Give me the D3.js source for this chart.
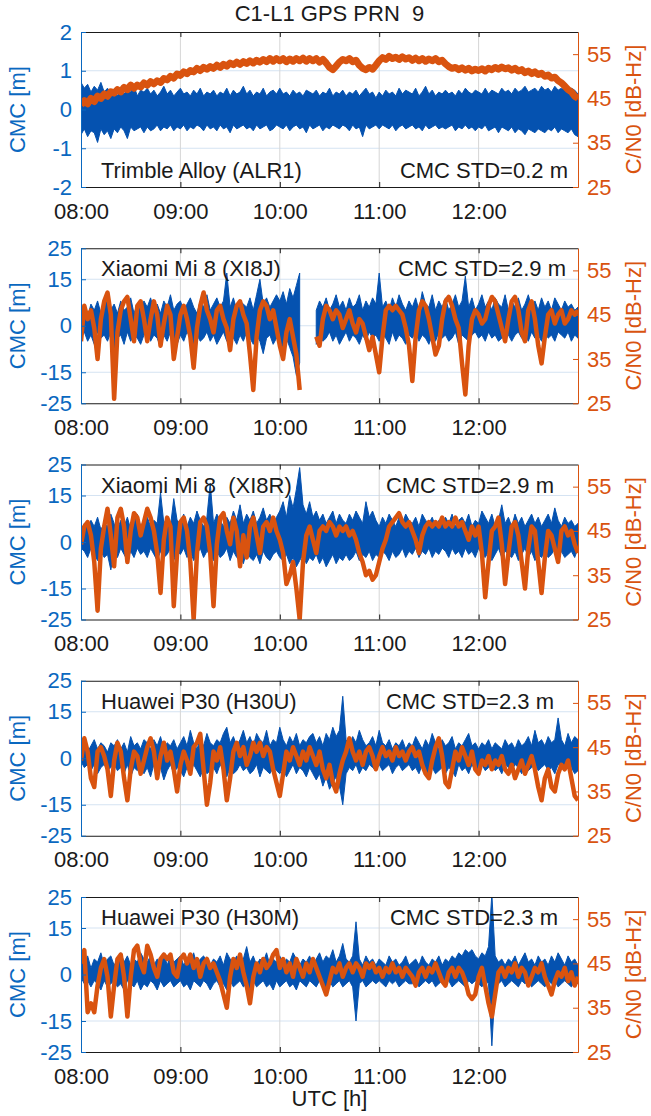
<!DOCTYPE html>
<html>
<head>
<meta charset="utf-8">
<script src="https://cdn.jsdelivr.net/npm/d3@7"></script>
<style>
    body { margin: 0; background: #fff; }
    svg text { font-family: "Liberation Sans", Arial, sans-serif; }
</style>
</head>
<body>
<div id="chart-area"></div>
<script>
/*
*    CMC and C/N0 of GPS PRN 9, five receivers
*/

// Tick values and labels
var hourTicks = [8, 9, 10, 11, 12];
var hourLabels = ["08:00", "09:00", "10:00", "11:00", "12:00"];
var cmcTicksGeodetic = [-2, -1, 0, 1, 2];
var cmcTicksPhone = [-25, -15, 0, 15, 25];
var cn0Ticks = [25, 35, 45, 55];

var receiverNames = ["Trimble Alloy (ALR1)", "Xiaomi Mi 8 (XI8J)", "Xiaomi Mi 8  (XI8R)", "Huawei P30 (H30U)", "Huawei P30 (H30M)"];
var stdLabels = ["CMC STD=0.2 m", "CMC STD=2.9 m", "CMC STD=2.9 m", "CMC STD=2.3 m", "CMC STD=2.3 m"];

// one sample every 2 minutes, 08:00 .. 13:00 (151 samples)
var sampleHours = d3.range(151).map(function(i){ return 8 + i / 30; });

// ---- ALR1 ----
var alr1CmcHi = [
 0.7,0.55,0.65,0.45,0.6,0.5,0.7,0.45,0.55,0.4,
 0.5,0.35,0.55,0.4,0.5,0.45,0.6,0.35,0.5,0.45,
 0.55,0.4,0.5,0.35,0.45,0.6,0.4,0.5,0.35,0.45,
 0.55,0.4,0.45,0.35,0.5,0.4,0.55,0.35,0.45,0.4,
 0.5,0.35,0.45,0.4,0.55,0.35,0.5,0.4,0.45,0.6,
 0.4,0.5,0.35,0.45,0.4,0.55,0.35,0.45,0.5,0.4,
 0.55,0.4,0.45,0.35,0.5,0.4,0.45,0.35,0.5,0.45,
 0.4,0.5,0.35,0.45,0.4,0.55,0.35,0.45,0.4,0.5,
 0.35,0.45,0.4,0.5,0.35,0.45,0.55,0.4,0.45,0.3,
 0.45,0.35,0.5,0.4,0.45,0.35,0.55,0.4,0.5,0.45,
 0.4,0.55,0.35,0.45,0.6,0.4,0.5,0.35,0.45,0.4,
 0.5,0.4,0.45,0.35,0.5,0.4,0.55,0.45,0.4,0.5,
 0.45,0.4,0.55,0.4,0.5,0.45,0.4,0.55,0.45,0.5,
 0.4,0.55,0.45,0.5,0.6,0.45,0.5,0.55,0.45,0.6,
 0.5,0.55,0.45,0.6,0.5,0.55,0.5,0.45,0.55,0.5,0.4];
var alr1CmcLo = [
 -0.65,-0.5,-0.7,-0.55,-0.6,-0.85,-0.5,-0.65,-0.55,-0.75,
 -0.5,-0.6,-0.45,-0.55,-0.75,-0.45,-0.55,-0.5,-0.45,-0.6,
 -0.45,-0.55,-0.5,-0.4,-0.55,-0.45,-0.5,-0.4,-0.55,-0.45,
 -0.5,-0.4,-0.55,-0.45,-0.5,-0.4,-0.45,-0.55,-0.4,-0.5,
 -0.45,-0.55,-0.4,-0.5,-0.45,-0.6,-0.4,-0.5,-0.45,-0.4,
 -0.5,-0.45,-0.55,-0.4,-0.5,-0.45,-0.4,-0.55,-0.5,-0.4,
 -0.45,-0.5,-0.4,-0.55,-0.45,-0.4,-0.5,-0.45,-0.6,-0.4,
 -0.5,-0.45,-0.4,-0.55,-0.45,-0.5,-0.4,-0.45,-0.5,-0.4,
 -0.45,-0.55,-0.4,-0.5,-0.45,-0.7,-0.4,-0.5,-0.45,-0.4,
 -0.5,-0.4,-0.45,-0.5,-0.4,-0.55,-0.45,-0.4,-0.5,-0.45,
 -0.4,-0.5,-0.45,-0.55,-0.4,-0.5,-0.45,-0.4,-0.5,-0.45,
 -0.5,-0.45,-0.4,-0.55,-0.45,-0.5,-0.4,-0.5,-0.45,-0.55,
 -0.45,-0.5,-0.4,-0.55,-0.5,-0.45,-0.6,-0.45,-0.5,-0.55,
 -0.45,-0.6,-0.5,-0.55,-0.65,-0.5,-0.55,-0.6,-0.5,-0.55,
 -0.6,-0.5,-0.55,-0.45,-0.6,-0.5,-0.55,-0.6,-0.5,-0.65,-0.7];
var alr1Cn0 = [
 43.5,44.5,43.8,45,44.3,45.5,45,46,45.5,46.5,
 46.2,47,46.5,47.5,47,48,47.3,48,47.6,48.5,
 48,48.8,48.3,49,48.6,49.5,49.2,50,49.6,50.5,
 50.2,51,50.6,51.3,51,51.8,51.3,52,51.6,52.2,
 51.8,52.5,52,52.7,52.3,53,52.6,53.2,52.7,53.3,
 52.9,53.5,53,53.6,53.2,53.8,53.3,54,53.4,54,
 53.5,54,53.3,53.9,53.4,54,53.5,54.1,53.4,54,
 53.5,54,53.2,53.8,53,52,51.5,52.3,53.2,53.8,
 53.5,54,53.3,53.6,52.5,51.8,51.5,52,51.6,52.5,
 53.5,54.2,53.8,54.5,54,54.3,53.8,54.4,53.9,54.2,
 53.6,54.1,53.5,54,53.4,53.9,53.5,54,53.3,53.6,
 52.8,52.2,51.8,52,51.5,51.9,51.4,51.8,51.2,51.6,
 51.3,51.7,51.2,51.8,51.5,52,51.6,52.1,51.7,51.9,
 51.4,51.8,51.2,51.5,50.8,51.2,50.6,51,50.4,50.7,
 50,50.3,49.6,49.8,49,48.5,47.8,47,46.5,45.5,45];

// ---- XI8J ----
var xi8jCmcHi = [
 4,6,3,7,5,8,4,6,9,5,
 7,4,8,5,6,9,4,7,5,8,
 6,9,5,7,4,8,6,10,5,7,
 8,5,7,9,6,4,8,6,10,5,
 7,9,6,8,17,6,9,5,8,7,
 6,9,5,10,15,7,9,6,8,10,
 8,11,7,12,9,13,17,null,null,null,
 null,5,8,6,9,5,7,10,6,8,
 5,9,6,7,10,5,8,6,9,7,
 17,6,8,5,9,6,10,7,5,8,
 6,9,5,11,7,6,10,5,8,6,
 9,5,7,10,6,8,16,6,9,5,
 7,10,6,8,5,9,7,6,10,5,
 8,6,9,5,7,10,6,8,5,9,
 6,8,5,9,7,5,8,6,7,5,6];
var xi8jCmcLo = [
 -4,-2,-5,-3,-6,-2,-4,-3,-5,-2,
 -24,-4,-3,-6,-2,-5,-3,-4,-6,-3,
 -2,-5,-3,-4,-7,-3,-5,-2,-4,-6,
 -3,-5,-2,-4,-6,-3,-5,-4,-2,-5,
 -3,-6,-4,-2,-5,-3,-4,-6,-3,-5,
 -2,-4,-6,-3,-5,-9,-4,-3,-6,-4,
 -5,-8,-4,-7,-10,-16,-12,null,null,null,
 null,-6,-3,-5,-4,-2,-5,-3,-6,-4,
 -2,-5,-3,-4,-6,-3,-5,-2,-4,-3,
 -5,-3,-4,-6,-2,-5,-3,-4,-6,-3,
 -4,-2,-5,-3,-4,-6,-3,-5,-2,-4,
 -3,-5,-4,-2,-6,-3,-4,-5,-3,-2,
 -4,-3,-5,-2,-4,-3,-5,-4,-2,-3,
 -5,-3,-2,-4,-3,-5,-2,-4,-3,-5,
 -2,-4,-3,-5,-2,-3,-4,-2,-5,-3,-4];
var xi8jCn0 = [
 39,47,44,46,42,35,44,48,50,45,
 26,41,46,48,49,44,39,47,48,44,
 39,44,48,45,38,43,47,45,35,40,
 45,47,44,40,33,42,47,50,46,44,
 41,46,47,44,42,37,44,47,48,45,
 43,36,28,40,46,48,47,44,46,42,
 38,35,41,44,40,36,28,null,null,null,
 null,40,38,44,47,46,44,46,45,42,
 44,46,43,41,44,43,40,37,40,36,
 32,40,46,47,46,47,46,45,42,38,
 30,40,46,48,47,44,40,36,38,44,
 48,49,47,44,42,34,27,38,44,46,
 45,43,44,47,49,48,45,42,39,44,
 48,49,46,41,39,46,48,44,38,34,
 40,45,46,43,45,46,43,44,46,45,46];

// ---- XI8R ----
var xi8rCmcHi = [
 3,6,4,7,5,8,4,6,5,9,
 6,4,7,5,8,4,6,9,5,7,
 8,5,7,6,16,6,8,5,14,7,
 6,9,5,8,6,10,7,5,8,19,
 6,9,7,5,8,6,10,7,12,6,
 9,7,10,6,8,11,7,9,6,8,
 10,13,8,15,11,17,24,12,9,13,
 8,10,7,9,6,8,10,6,9,7,
 6,9,7,10,8,6,13,8,10,7,
 5,8,6,9,7,5,8,6,9,7,
 6,8,5,9,7,6,8,5,7,6,
 8,6,9,5,7,8,6,9,5,7,
 6,10,8,6,9,5,7,12,6,8,
 5,9,6,8,5,7,9,6,8,5,
 7,9,6,11,7,5,8,6,7,5,6];
var xi8rCmcLo = [
 -2,-3,-5,-2,-4,-6,-3,-5,-4,-9,
 -3,-5,-2,-4,-6,-3,-5,-2,-4,-3,
 -5,-2,-4,-6,-3,-5,-4,-2,-6,-3,
 -4,-2,-5,-3,-6,-4,-2,-5,-3,-4,
 -6,-3,-5,-4,-2,-6,-3,-5,-4,-7,
 -3,-5,-6,-4,-7,-3,-5,-6,-4,-3,
 -5,-6,-4,-7,-5,-8,-6,-4,-7,-5,
 -6,-4,-7,-5,-8,-6,-4,-7,-5,-6,
 -4,-6,-5,-3,-6,-4,-5,-3,-6,-4,
 -5,-3,-4,-6,-3,-5,-4,-2,-5,-3,
 -4,-2,-5,-3,-4,-2,-5,-3,-4,-2,
 -3,-5,-2,-4,-3,-5,-2,-4,-3,-5,
 -2,-4,-5,-3,-6,-4,-2,-5,-3,-4,
 -5,-3,-6,-4,-2,-5,-3,-6,-4,-5,
 -3,-5,-4,-2,-6,-3,-5,-4,-3,-5,-2];
var xi8rCn0 = [
 42,46,47,44,38,27,41,46,50,44,
 37,48,50,46,38,45,49,48,44,47,
 50,48,45,40,31,43,48,46,28,40,
 47,48,45,38,25,40,47,48,46,40,
 28,42,48,49,45,42,48,45,37,44,
 39,46,48,44,40,46,47,45,48,45,
 43,40,33,35,38,32,25,38,44,46,
 43,40,45,46,45,47,46,44,46,45,
 46,44,45,43,40,38,35,36,34,35,
 38,41,43,46,47,48,49,47,46,47,
 45,43,40,44,46,47,46,47,46,48,
 46,47,46,48,46,47,45,43,46,44,
 46,40,30,38,45,46,48,42,33,40,
 46,47,44,38,32,41,46,45,38,31,
 39,45,44,41,38,45,46,44,45,42,40];

// ---- H30U ----
var h30uCmcHi = [
 3,5,2,4,6,3,5,4,2,5,
 4,6,3,5,2,7,4,5,3,6,
 5,3,6,4,7,3,5,4,6,3,
 5,7,4,9,5,3,6,4,8,5,
 4,6,5,8,10,5,7,4,6,9,
 5,7,4,8,6,5,9,4,6,5,
 10,6,4,7,5,8,4,6,5,7,
 8,5,7,4,8,6,10,7,9,20,
 6,4,7,5,9,6,4,5,7,4,
 9,5,4,6,3,5,4,6,3,5,
 4,7,5,3,6,4,8,5,3,6,
 4,5,7,3,5,4,6,8,4,5,
 3,5,4,6,3,5,4,3,6,4,
 5,3,6,4,5,7,4,9,5,6,
 4,7,5,6,13,6,4,8,5,7,6];
var h30uCmcLo = [
 -1,-3,-2,-4,-2,-5,-3,-2,-4,-3,
 -2,-4,-3,-5,-2,-6,-3,-4,-2,-5,
 -3,-6,-2,-4,-3,-7,-4,-2,-5,-3,
 -4,-6,-3,-5,-2,-4,-6,-3,-5,-4,
 -3,-5,-2,-4,-6,-3,-5,-4,-2,-4,
 -3,-5,-4,-2,-6,-3,-4,-5,-3,-4,
 -5,-3,-6,-4,-2,-5,-3,-4,-6,-3,
 -5,-7,-5,-9,-6,-10,-8,-6,-9,-15,
 -5,-3,-4,-2,-5,-3,-4,-2,-3,-4,
 -2,-4,-3,-2,-5,-3,-2,-4,-3,-2,
 -4,-3,-5,-2,-4,-6,-3,-5,-4,-3,
 -5,-3,-4,-6,-2,-4,-3,-5,-2,-4,
 -3,-2,-4,-3,-2,-4,-3,-5,-2,-3,
 -4,-2,-3,-5,-2,-4,-3,-2,-4,-3,
 -2,-4,-3,-5,-2,-3,-4,-2,-3,-5,-4];
var h30uCn0 = [
 42,47,44,38,36,44,45,43,40,34,
 42,46,44,38,33,40,44,43,39,42,
 45,47,44,38,43,46,42,44,40,35,
 41,44,42,39,45,46,48,40,32,37,
 44,42,45,40,33,38,44,46,43,45,
 41,43,46,44,46,43,45,44,40,37,
 34,39,44,42,45,43,41,44,42,45,
 43,41,44,40,38,41,37,35,39,42,
 44,47,44,42,44,41,44,45,43,40,
 43,45,43,44,42,45,43,44,42,44,
 45,43,44,41,39,38,42,45,47,43,
 37,36,40,44,42,45,43,41,44,40,
 39,42,41,43,40,42,41,43,40,39,
 41,38,40,42,39,41,43,40,36,33,
 38,40,36,35,39,41,40,42,38,34,33];

// ---- H30M ----
var h30mCmcHi = [
 5,3,6,2,5,4,7,3,5,6,
 3,5,7,4,6,3,5,4,7,5,
 4,6,3,5,4,7,3,6,4,5,
 6,3,5,4,7,3,5,6,4,3,
 5,4,6,3,7,5,4,6,3,5,
 9,4,6,3,5,4,7,3,5,4,
 6,3,5,4,7,5,3,5,4,6,
 3,5,7,4,6,5,8,4,6,10,
 5,4,6,17,5,3,6,4,5,3,
 5,4,3,6,4,5,3,4,6,3,
 4,5,3,6,4,3,5,4,6,3,
 5,4,6,5,7,6,8,7,8,6,
 5,7,6,9,26,6,4,5,3,5,
 4,6,3,5,7,4,5,3,6,4,
 5,3,6,4,7,5,3,6,4,5,3];
var h30mCmcLo = [
 -1,-3,-2,-4,-2,-3,-5,-2,-4,-3,
 -2,-4,-3,-5,-2,-3,-4,-2,-5,-3,
 -4,-2,-3,-5,-2,-4,-3,-2,-4,-3,
 -2,-4,-3,-5,-2,-3,-4,-2,-3,-5,
 -3,-2,-4,-3,-5,-2,-4,-3,-2,-4,
 -3,-5,-2,-4,-3,-2,-4,-3,-5,-2,
 -4,-3,-2,-4,-3,-5,-2,-3,-4,-2,
 -3,-4,-2,-3,-5,-2,-4,-3,-2,-4,
 -3,-2,-4,-15,-3,-2,-4,-3,-2,-3,
 -2,-3,-4,-2,-3,-2,-4,-3,-2,-3,
 -3,-2,-4,-3,-2,-3,-2,-4,-3,-2,
 -3,-2,-4,-3,-2,-3,-4,-2,-3,-2,
 -3,-4,-2,-3,-23,-4,-3,-2,-4,-3,
 -2,-3,-4,-2,-3,-2,-4,-3,-2,-3,
 -4,-2,-3,-2,-4,-3,-2,-3,-4,-2,-3];
var h30mCn0 = [
 45,48,34,36,34,40,44,46,42,33,
 40,46,47,42,33,42,48,49,45,43,
 49,47,44,42,46,47,46,47,43,42,
 46,47,45,47,44,46,42,45,46,44,
 45,43,41,38,35,42,46,44,47,43,
 40,36,42,45,43,46,44,45,47,48,
 44,46,43,45,42,46,44,42,45,43,
 46,44,42,40,38,41,44,43,45,42,
 44,45,43,45,44,42,45,44,45,43,
 44,42,44,43,45,43,44,42,44,43,
 42,40,43,44,42,44,43,45,43,41,
 40,43,44,42,44,43,41,38,37,38,
 42,44,40,36,33,38,43,44,42,44,
 43,45,42,44,43,40,42,44,43,45,
 42,40,38,41,43,42,44,41,43,40,42];

var panels = [
    {hi: alr1CmcHi, lo: alr1CmcLo, cn0: alr1Cn0, cmcTicks: cmcTicksGeodetic, textBottom: true, stdX: 568, cn0Width: 7},
    {hi: xi8jCmcHi, lo: xi8jCmcLo, cn0: xi8jCn0, cmcTicks: cmcTicksPhone, textBottom: false, stdX: 566, cn0Width: 4.5},
    {hi: xi8rCmcHi, lo: xi8rCmcLo, cn0: xi8rCn0, cmcTicks: cmcTicksPhone, textBottom: false, stdX: 554, cn0Width: 4.5},
    {hi: h30uCmcHi, lo: h30uCmcLo, cn0: h30uCn0, cmcTicks: cmcTicksPhone, textBottom: false, stdX: 554, cn0Width: 4.5},
    {hi: h30mCmcHi, lo: h30mCmcLo, cn0: h30mCn0, cmcTicks: cmcTicksPhone, textBottom: false, stdX: 558, cn0Width: 4.5}
];

// Layout
var width = 651, height = 1116;
var left = 81, plotW = 497, plotH = 155, firstTop = 32, step = 216.25;

var blueData = "#0552b0", blueAxis = "#0a68c0", orange = "#d9530f", ink = "#1a1a1a";

var svg = d3.select("#chart-area").append("svg")
    .attr("width", width)
    .attr("height", height);

// Scales shared by all panels
var x = d3.scaleLinear().domain([8, 13]).range([0, plotW]);
var yCn0 = d3.scaleLinear().domain([25, 60]).range([plotH, 0]);

// plain "-" like the original figure
var tickText = function(d){ return String(d); };

// Title
svg.append("text")
    .attr("x", left + plotW / 2)
    .attr("y", 21)
    .attr("text-anchor", "middle")
    .attr("font-size", 22)
    .attr("fill", ink)
    .style("white-space", "pre")
    .text("C1-L1 GPS PRN  9");

panels.forEach(function(p, k) {
    var top = firstTop + k * step;
    var ext = d3.extent(p.cmcTicks);
    var yCmc = d3.scaleLinear().domain(ext).range([plotH, 0]);

    var rows = sampleHours.map(function(t, i) {
        return {t: t, hi: p.hi[i], lo: p.lo[i], cn0: p.cn0[i]};
    });

    var g = svg.append("g")
        .attr("transform", "translate(" + left + "," + top + ")");

    g.append("clipPath").attr("id", "clip" + k)
        .append("rect").attr("width", plotW).attr("height", plotH);

    // Grid
    g.selectAll(".hgrid")
        .data(p.cmcTicks.filter(function(v){ return v !== ext[0] && v !== ext[1]; }))
        .enter().append("line")
        .attr("x1", 0).attr("x2", plotW)
        .attr("y1", function(d){ return yCmc(d); })
        .attr("y2", function(d){ return yCmc(d); })
        .attr("stroke", "#d5e3f2");

    g.selectAll(".vgrid")
        .data(hourTicks.slice(1))
        .enter().append("line")
        .attr("x1", function(d){ return x(d); })
        .attr("x2", function(d){ return x(d); })
        .attr("y1", 0).attr("y2", plotH)
        .attr("stroke", "#d6d6d6");

    var data = g.append("g").attr("clip-path", "url(#clip" + k + ")");

    // CMC band
    var area = d3.area()
        .defined(function(d){ return d.hi != null; })
        .x(function(d){ return x(d.t); })
        .y0(function(d){ return yCmc(d.lo); })
        .y1(function(d){ return yCmc(d.hi); });

    data.append("path")
        .datum(rows)
        .attr("fill", blueData)
        .attr("stroke", blueData)
        .attr("stroke-width", 1)
        .attr("d", area);

    // C/N0 line
    var line = d3.line()
        .defined(function(d){ return d.cn0 != null; })
        .x(function(d){ return x(d.t); })
        .y(function(d){ return yCn0(d.cn0); });

    data.append("path")
        .datum(rows)
        .attr("fill", "none")
        .attr("stroke", orange)
        .attr("stroke-width", p.cn0Width)
        .attr("stroke-linejoin", "round")
        .attr("d", line);

    // Axes
    var xAxis = g.append("g")
        .attr("transform", "translate(0," + plotH + ")")
        .call(d3.axisBottom(x).tickValues(hourTicks)
            .tickFormat(function(d, i){ return hourLabels[i]; })
            .tickSizeInner(-5).tickSizeOuter(0).tickPadding(16));
    xAxis.select(".domain").attr("stroke", ink);
    xAxis.selectAll(".tick line").attr("stroke", ink);
    xAxis.selectAll("text").attr("font-size", 22).attr("fill", ink)
        .attr("font-family", "Liberation Sans, Arial, sans-serif");

    var topAxis = g.append("g")
        .call(d3.axisTop(x).tickValues(hourTicks).tickFormat("")
            .tickSizeInner(-5).tickSizeOuter(0));
    topAxis.select(".domain").attr("stroke", ink);
    topAxis.selectAll(".tick line").attr("stroke", ink);

    var yAxis = g.append("g")
        .call(d3.axisLeft(yCmc).tickValues(p.cmcTicks).tickFormat(tickText)
            .tickSizeInner(-5).tickSizeOuter(0).tickPadding(9));
    yAxis.select(".domain").attr("stroke", blueAxis);
    yAxis.selectAll(".tick line").attr("stroke", blueAxis);
    yAxis.selectAll("text").attr("font-size", 22).attr("fill", blueAxis)
        .attr("font-family", "Liberation Sans, Arial, sans-serif");

    var y2Axis = g.append("g")
        .attr("transform", "translate(" + plotW + ",0)")
        .call(d3.axisRight(yCn0).tickValues(cn0Ticks).tickFormat(tickText)
            .tickSizeInner(-5).tickSizeOuter(0).tickPadding(9));
    y2Axis.select(".domain").attr("stroke", orange);
    y2Axis.selectAll(".tick line").attr("stroke", orange);
    y2Axis.selectAll("text").attr("font-size", 22).attr("fill", orange)
        .attr("font-family", "Liberation Sans, Arial, sans-serif");

    // Axis titles
    g.append("text")
        .attr("transform", "translate(" + (17 - left) + "," + (plotH / 2) + ") rotate(-90)")
        .attr("text-anchor", "middle")
        .attr("dy", "0.35em")
        .attr("font-size", 22)
        .attr("fill", blueAxis)
        .text("CMC [m]");

    g.append("text")
        .attr("transform", "translate(" + (633 - left) + "," + (plotH / 2) + ") rotate(-90)")
        .attr("text-anchor", "middle")
        .attr("dy", "0.35em")
        .attr("font-size", 22)
        .attr("fill", orange)
        .text("C/N0 [dB-Hz]");

    // Receiver name and CMC STD
    var ty = p.textBottom ? plotH - 9 : 28;
    g.append("text")
        .attr("x", 101 - left)
        .attr("y", ty)
        .attr("font-size", 22)
        .attr("fill", ink)
        .style("white-space", "pre")
        .text(receiverNames[k]);

    g.append("text")
        .attr("x", p.stdX - left)
        .attr("y", ty)
        .attr("text-anchor", "end")
        .attr("font-size", 22)
        .attr("fill", ink)
        .text(stdLabels[k]);
});

// X label
svg.append("text")
    .attr("x", left + plotW / 2)
    .attr("y", 1106)
    .attr("text-anchor", "middle")
    .attr("font-size", 22)
    .attr("fill", ink)
    .text("UTC [h]");
</script>
</body>
</html>
